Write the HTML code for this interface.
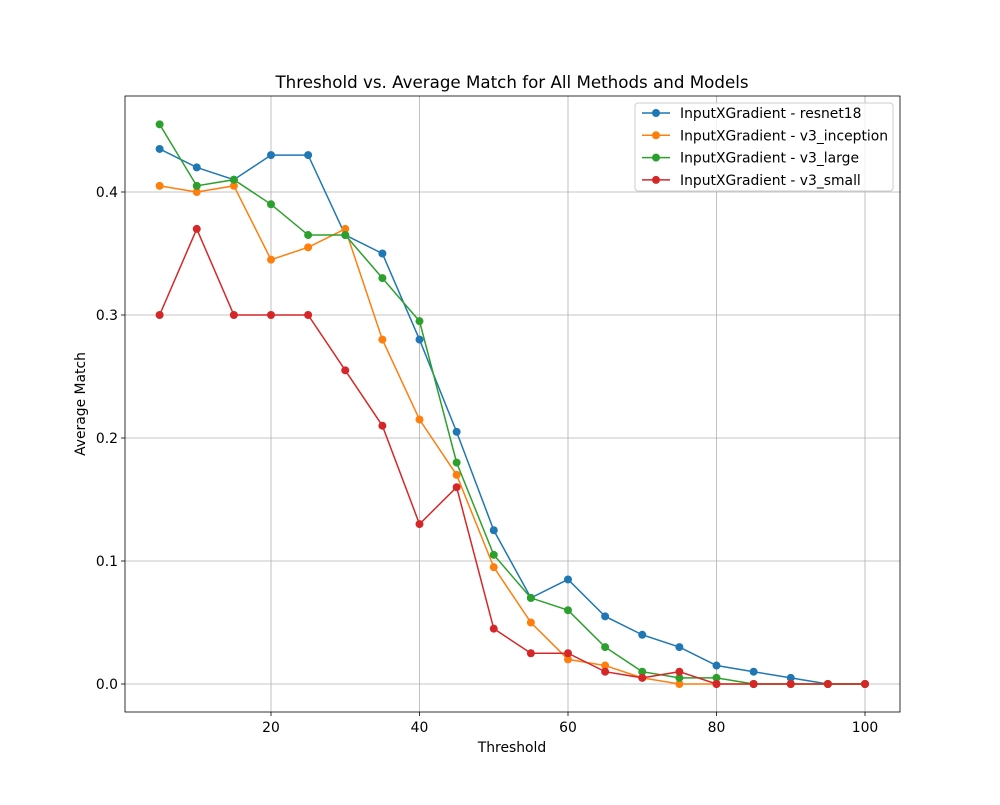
<!DOCTYPE html>
<html><head><meta charset="utf-8"><style>
body{margin:0;background:#fff;}
svg text{font-family:"DejaVu Sans","Liberation Sans",sans-serif;fill:#000;}
</style></head><body>
<svg id="chart" width="1000" height="800" xmlns="http://www.w3.org/2000/svg"></svg>
<script>
const thresholds=[5,10,15,20,25,30,35,40,45,50,55,60,65,70,75,80,85,90,95,100];
const resnet18=[0.435,0.42,0.41,0.43,0.43,0.365,0.35,0.28,0.205,0.125,0.07,0.085,0.055,0.04,0.03,0.015,0.01,0.005,0,0];
const v3Inception=[0.405,0.40,0.405,0.345,0.355,0.37,0.28,0.215,0.17,0.095,0.05,0.02,0.015,0.005,0,0,0,0,0,0];
const v3Large=[0.455,0.405,0.41,0.39,0.365,0.365,0.33,0.295,0.18,0.105,0.07,0.06,0.03,0.01,0.005,0.005,0,0,0,0];
const v3Small=[0.30,0.37,0.30,0.30,0.30,0.255,0.21,0.13,0.16,0.045,0.025,0.025,0.01,0.005,0.01,0,0,0,0,0];
const seriesNames=["InputXGradient - resnet18","InputXGradient - v3_inception","InputXGradient - v3_large","InputXGradient - v3_small"];
const xTicks=[20,40,60,80,100];
const yTicks=[0.0,0.1,0.2,0.3,0.4];

const colors=["#1f77b4","#ff7f0e","#2ca02c","#d62728"];
const allSeries=[resnet18,v3Inception,v3Large,v3Small];
const L=125,R=900,T=96,B=712;
const xs=v=>122.5+v*7.425;
const ys=v=>684-v*1230;
const svg=document.getElementById('chart');
const NS="http://www.w3.org/2000/svg";
function mk(tag,attrs,parent){const e=document.createElementNS(NS,tag);for(const k in attrs)e.setAttribute(k,attrs[k]);(parent||svg).appendChild(e);return e;}

xTicks.forEach(t=>{const l=mk('line',{x1:xs(t),x2:xs(t),y1:T,y2:B,stroke:'#b0b0b0','stroke-width':0.8});

});
yTicks.forEach(t=>{const l=mk('line',{x1:L,x2:R,y1:ys(t),y2:ys(t),stroke:'#b0b0b0','stroke-width':0.8});

});

allSeries.forEach((s,i)=>{
  const g=mk('g',{});
  
  
  mk('polyline',{points:s.map((v,j)=>xs(thresholds[j])+','+ys(v)).join(' '),fill:'none',stroke:colors[i],'stroke-width':1.5},g);
  s.forEach((v,j)=>{const c=mk('circle',{cx:xs(thresholds[j]),cy:ys(v),r:4,fill:colors[i]},g);
    
    });
});

const fr=mk('rect',{x:L,y:T,width:R-L,height:B-T,fill:'none',stroke:'#000','stroke-width':0.8});



xTicks.forEach(t=>{mk('line',{x1:xs(t),x2:xs(t),y1:B,y2:B+4,stroke:'#000','stroke-width':0.8});
 const tx=mk('text',{x:xs(t),y:B+20,'text-anchor':'middle','font-size':13.9});tx.textContent=t;
 
 });
yTicks.forEach(t=>{mk('line',{x1:L-4,x2:L,y1:ys(t),y2:ys(t),stroke:'#000','stroke-width':0.8});
 const tx=mk('text',{x:L-7,y:ys(t)+5,'text-anchor':'end','font-size':13.9});tx.textContent=t.toFixed(1);
 
 });

const title=mk('text',{x:512,y:88,'text-anchor':'middle','font-size':16.7});title.textContent='Threshold vs. Average Match for All Methods and Models';


const xl=mk('text',{x:512,y:752,'text-anchor':'middle','font-size':13.9});xl.textContent='Threshold';


const yl=mk('text',{x:85,y:404,'text-anchor':'middle','font-size':13.9,transform:'rotate(-90 85 404)'});yl.textContent='Average Match';



const lg=mk('g',{});


mk('rect',{x:635,y:103,width:258,height:88,rx:3,fill:'#fff','fill-opacity':0.8,stroke:'#ccc'},lg);
seriesNames.forEach((n,i)=>{
  const y=113+i*22.3;
  const e=mk('g',{},lg);
  
  
  mk('line',{x1:642,x2:670,y1:y,y2:y,stroke:colors[i],'stroke-width':1.5},e);
  mk('circle',{cx:656,cy:y,r:4,fill:colors[i]},e);
  const t=mk('text',{x:680,y:y+5,'font-size':13.9},e);t.textContent=n;
});
</script>
</body></html>
